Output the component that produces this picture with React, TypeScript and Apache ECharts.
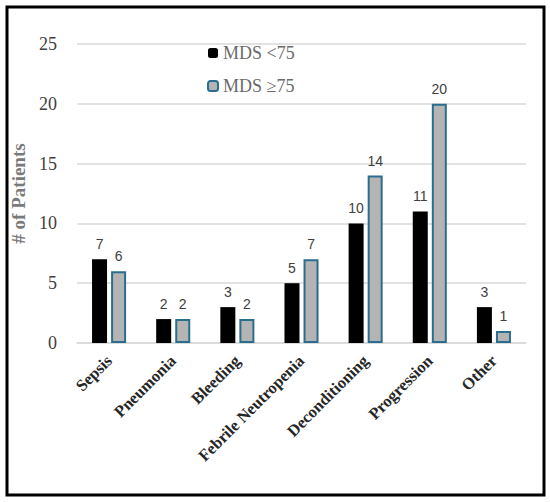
import React, { useEffect, useRef } from "react";
import * as echarts from "echarts";

const categories = ["Sepsis", "Pneumonia", "Bleeding", "Febrile Neutropenia", "Deconditioning", "Progression", "Other"];
const seriesNames = ["MDS <75", "MDS \u226575"];
const mdsUnder75 = [7, 2, 3, 5, 10, 11, 3];
const mdsOver75 = [6, 2, 2, 7, 14, 20, 1];
const yTicks = { min: 0, max: 25, interval: 5 };

const SERIF = "'Liberation Serif', 'DejaVu Serif', serif";
const SANS = "'Liberation Sans', 'DejaVu Sans', sans-serif";

export default function App() {
  const ref = useRef<HTMLDivElement>(null);
  useEffect(() => {
    document.body.style.margin = "0";
    const chart = echarts.init(ref.current!, null, { renderer: "svg" });
    chart.setOption({
      animation: false,
      backgroundColor: "#ffffff",
      graphic: [
        {
          type: "rect",
          shape: { x: 7, y: 7, width: 537, height: 488 },
          style: { fill: "none", stroke: "#000", lineWidth: 3 },
          silent: true,
        },
      ],
      legend: {
        orient: "vertical",
        left: 202,
        top: 39,
        itemWidth: 10,
        itemHeight: 10,
        itemGap: 15,
        textStyle: { fontFamily: SERIF, fontSize: 18, color: "#6a6a6a" },
        data: seriesNames,
      },
      grid: { left: 77, right: 24, top: 44, bottom: 159, containLabel: false },
      xAxis: {
        type: "category",
        data: categories,
        axisLine: { show: true, lineStyle: { color: "#D9D9D9", width: 1.5 } },
        axisTick: { show: false },
        axisLabel: {
          rotate: 45,
          interval: 0,
          margin: 15,
          fontFamily: SERIF,
          fontWeight: "bold",
          fontSize: 16.5,
          color: "#262626",
        },
      },
      yAxis: {
        type: "value",
        min: yTicks.min,
        max: yTicks.max,
        interval: yTicks.interval,
        name: "# of Patients",
        nameLocation: "middle",
        nameGap: 42,
        nameTextStyle: { fontFamily: SERIF, fontWeight: "bold", fontSize: 19, color: "#7a7a7a" },
        axisLine: { show: false },
        axisTick: { show: false },
        axisLabel: { margin: 20, fontFamily: SERIF, fontSize: 18, color: "#404040" },
        splitLine: { lineStyle: { color: "#D9D9D9", width: 1.5 } },
      },
      series: [
        {
          name: seriesNames[0],
          type: "bar",
          data: mdsUnder75,
          barWidth: 15,
          barGap: "27%",
          itemStyle: { color: "#000000" },
          label: { show: true, position: "top", distance: 8, fontFamily: SANS, fontSize: 14, color: "#404040" },
        },
        {
          name: seriesNames[1],
          type: "bar",
          data: mdsOver75,
          barWidth: 15,
          itemStyle: { color: "#B4B4B4", borderColor: "#2A6E8F", borderWidth: 2 },
          label: { show: true, position: "top", distance: 8, fontFamily: SANS, fontSize: 14, color: "#404040" },
        },
      ],
    });
    return () => chart.dispose();
  }, []);
  return <div ref={ref} style={{ width: 550, height: 502 }} />;
}
